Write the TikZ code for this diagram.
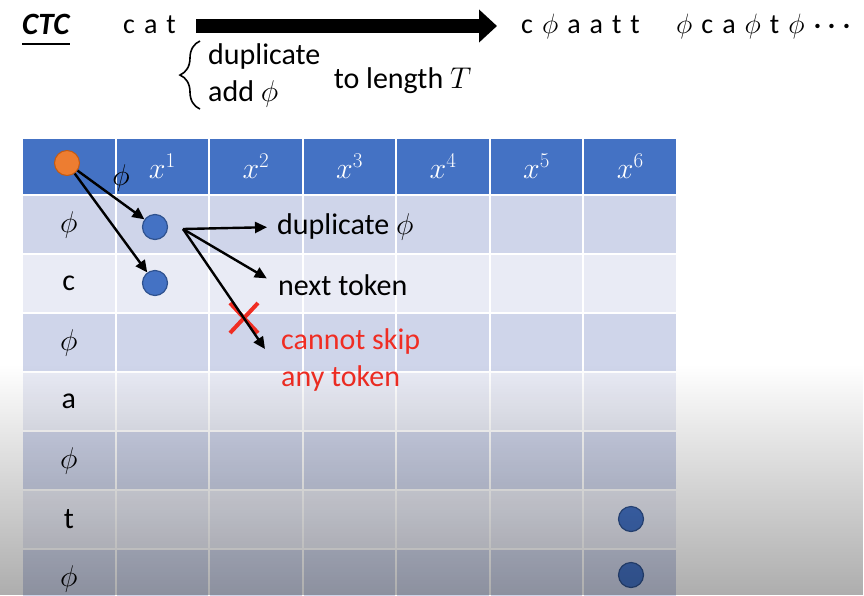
\documentclass[tikz,border=0pt]{standalone}
\usepackage{fix-cm}
\usepackage{fontspec}
\setmainfont{Carlito}
\usepackage{amsmath}
\usepackage{tikz}
\usetikzlibrary{arrows.meta,positioning,fadings,decorations.pathreplacing}

\definecolor{hdrblue}{HTML}{4472C4}
\definecolor{banddark}{HTML}{CFD5EA}
\definecolor{bandlight}{HTML}{E9EBF5}
\definecolor{dotedge}{HTML}{2F528F}
\definecolor{orangedot}{HTML}{ED7D31}
\definecolor{orangeedge}{HTML}{C55A11}
\definecolor{skipred}{RGB}{240,45,35}

\tikzfading[name=fadeup, top color=transparent!100, middle color=transparent!75, bottom color=transparent!0]

\newcommand{\lettergap}{\hspace{9pt}}

\begin{document}
\begin{tikzpicture}[x=1pt,y=-1pt,
  txt/.style={inner sep=0pt, font=\fontsize{30}{37}\selectfont},
  seq/.style={inner sep=0pt, anchor=base west, text height=20pt, text depth=6pt, font=\fontsize{28}{34}\selectfont},
  cell/.style={draw=white, line width=2pt, minimum width=93.57pt, minimum height=59pt, inner sep=0pt},
  hcell/.style={cell, fill=hdrblue, minimum height=57pt},
  lab/.style={font=\fontsize{30}{36}\selectfont},
  hlab/.style={text=white, font=\fontsize{30}{36}\selectfont},
  state/.style={circle, fill=hdrblue, draw=dotedge, line width=1.2pt, minimum size=25pt, inner sep=0pt},
  start/.style={circle, fill=orangedot, draw=orangeedge, line width=1pt, minimum size=25pt, inner sep=0pt},
  arr/.style={line width=2.4pt, -{Triangle[length=12pt,width=11pt]}},
  bigarr/.style={line width=14pt, -{Triangle[length=18pt,width=32pt]}},
  cross/.style={skipred, line width=4pt}
]
\useasboundingbox (0,0) rectangle (864,595);
\fill[white] (0,0) rectangle (864,595);

\node[inner sep=0pt, anchor=base west, font=\fontsize{31}{37}\selectfont\bfseries\itshape] (ctc) at (22,34) {CTC};
\draw[line width=1.8pt] ([yshift=-10pt]ctc.base west) -- ([yshift=-10pt]ctc.base east);

\node[seq] (cat) at (123,33) {c\lettergap a\lettergap t};
\node[seq] (seqa) at (521,33) {c\lettergap$\phi$\lettergap a\lettergap a\lettergap t\lettergap t};
\node[seq] (seqb) at (676,33) {$\phi$\lettergap c\lettergap a\lettergap $\phi$\lettergap t\lettergap $\phi$\lettergap \mbox{\boldmath$\cdots$}};
\draw[bigarr, shorten <=20pt, shorten >=24pt] (cat.east) -- (seqa.west);

\node[txt, align=left, anchor=north west] (ops) at (208,43) {duplicate\\add $\phi$};
\node[txt, right=13pt of ops, yshift=-6pt] (tolen) {to length $T$};
\draw[line width=1.6pt, decorate, decoration={brace, amplitude=20pt}]
  ([xshift=-8pt,yshift=-2pt]ops.south west) -- ([xshift=-8pt,yshift=2pt]ops.north west);

\foreach \j in {0,...,6}
  \node[hcell] (h\j) at ({68.8+93.57*\j}, 166.5) {};
\foreach \i in {1,...,7} {
  \ifodd\i \def\band{banddark}\else \def\band{bandlight}\fi
  \foreach \j in {0,...,6}
    \node[cell, fill=\band] (r\i-\j) at ({68.8+93.57*\j}, {165.5+59*\i}) {};
}

\foreach \j in {1,...,6}
  \node[hlab] (x\j) at (h\j) {$x^{\j}$};
\foreach \lbl [count=\i] in {$\phi$, c, $\phi$, a, $\phi$, t, $\phi$}
  \node[lab] (l\i) at (r\i-0) {\lbl};

\node[start] (s0) at (67,163) {};
\node[lab] (plab) at (121,178) {$\phi$};
\node[state] (d1) at (155,227) {};
\node[state] (d2) at (155,283) {};
\node[state] (d3) at (631,519) {};
\node[state] (d4) at (631,575) {};

\draw[arr] (s0) -- (d1);
\draw[arr] (s0) -- (d2);

\node[txt, anchor=west] (dup) at (277,227) {duplicate $\phi$};
\node[txt, anchor=west] (nxt) at (278,285) {next token};
\node[txt, anchor=north west, align=left, text=skipred] (skip) at (281,328) {cannot skip\\any token};

\coordinate (fork) at (183,229);
\coordinate (skipend) at (265,349);
\coordinate (cross) at (244,318);

\draw[cross] ([shift={(-14,-15)}]cross) -- ([shift={(14,15)}]cross);
\draw[cross] ([shift={(-14,15)}]cross) -- ([shift={(14,-15)}]cross);

\draw[arr, shorten >=10pt] (fork) -- (dup.west);
\draw[arr, shorten >=13pt] (fork) -- (nxt.west);
\draw[arr] (fork) -- (skipend);

\fill[black, opacity=0.32, path fading=fadeup] (0,365) rectangle (864,595);
\end{tikzpicture}
\end{document}
